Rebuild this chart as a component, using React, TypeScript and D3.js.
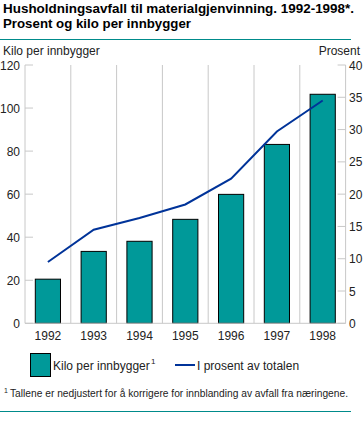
import React from 'react';
import * as d3 from 'd3';

const years = ['1992', '1993', '1994', '1995', '1996', '1997', '1998'];
const kiloPerInnbygger = [20.5, 33.4, 38.1, 48.3, 59.9, 83.1, 106.4];
const prosentAvTotalen = [9.5, 14.5, 16.3, 18.4, 22.4, 29.7, 34.5];
const leftTicks = [0, 20, 40, 60, 80, 100, 120];
const rightTicks = [0, 5, 10, 15, 20, 25, 30, 35, 40];

const W = 363;
const H = 424;
const FONT = '"Liberation Sans", Arial, sans-serif';

function App() {
  const x0 = 25, x1 = 345.6, yTop = 65, yBottom = 323.3;

  const x = d3.scaleBand<string>().domain(years).range([x0, x1]).paddingInner(0).paddingOuter(0);
  const yLeft = d3.scaleLinear().domain([0, 120]).range([yBottom, yTop]);
  const yRight = d3.scaleLinear().domain([0, 40]).range([yBottom, yTop]);

  const barW = x.bandwidth() * 0.55;

  const line = d3.line<number>()
    .x((_, i) => (x(years[i]) as number) + x.bandwidth() / 2)
    .y(d => yRight(d));

  return (
    <svg width={W} height={H} style={{ position: 'absolute', left: 0, top: 0, background: '#fff' }} fontFamily={FONT}>
      {/* Title */}
      <text x={3} y={13} fontSize={13.5} fontWeight="bold" fill="#000" textLength={351} lengthAdjust="spacingAndGlyphs">
        Husholdningsavfall til materialgjenvinning. 1992-1998*.
      </text>
      <text x={3} y={28} fontSize={13.5} fontWeight="bold" fill="#000" textLength={188} lengthAdjust="spacingAndGlyphs">
        Prosent og kilo per innbygger
      </text>
      <line x1={0} x2={351} y1={39.5} y2={39.5} stroke="#008b8b" strokeWidth={1} />

      {/* Axis titles */}
      <text x={3} y={55} fontSize={12} fill="#222">Kilo per innbygger</text>
      <text x={360} y={55} fontSize={12} fill="#222" textAnchor="end">Prosent</text>

      {/* Vertical gridlines */}
      {years.slice(1).map(yr => (
        <line key={yr} x1={x(yr)} x2={x(yr)} y1={yTop} y2={yBottom} stroke="#c8c8c8" strokeWidth={1} />
      ))}

      {/* Left axis */}
      <line x1={x0} x2={x0} y1={yTop} y2={yBottom} stroke="#c8c8c8" />
      {leftTicks.map(t => (
        <g key={t}>
          <line x1={x0} x2={x0 + 8} y1={yLeft(t)} y2={yLeft(t)} stroke="#c8c8c8" />
          <text x={20} y={yLeft(t) + 4.5} fontSize={12} fill="#222" textAnchor="end">{t}</text>
        </g>
      ))}

      {/* Right axis */}
      <line x1={x1} x2={x1} y1={yTop} y2={yBottom} stroke="#c8c8c8" />
      {rightTicks.map(t => (
        <g key={t}>
          <line x1={x1 - 8} x2={x1} y1={yRight(t)} y2={yRight(t)} stroke="#c8c8c8" />
          <text x={349} y={yRight(t) + 4.5} fontSize={12} fill="#222">{t}</text>
        </g>
      ))}

      {/* Bars */}
      {kiloPerInnbygger.map((v, i) => {
        const cx = (x(years[i]) as number) + x.bandwidth() / 2;
        return (
          <rect key={years[i]} x={cx - barW / 2} y={yLeft(v)} width={barW} height={yLeft(0) - yLeft(v)}
            fill="#009999" stroke="#000" strokeWidth={1} />
        );
      })}

      {/* Line */}
      <path d={line(prosentAvTotalen) || ''} fill="none" stroke="#003399" strokeWidth={2} />

      {/* Baseline */}
      <line x1={x0} x2={x1} y1={yBottom} y2={yBottom} stroke="#c8c8c8" />

      {/* X labels */}
      {years.map(yr => (
        <text key={yr} x={(x(yr) as number) + x.bandwidth() / 2} y={340} fontSize={12} fill="#222" textAnchor="middle">{yr}</text>
      ))}

      {/* Legend */}
      <rect x={30.5} y={353.5} width={20} height={23} fill="#009999" stroke="#000" />
      <text x={53} y={370} fontSize={12} fill="#222">Kilo per innbygger</text>
      <text x={151} y={364} fontSize={8} fill="#222">1</text>
      <line x1={175} x2={195} y1={365} y2={365} stroke="#003399" strokeWidth={2} />
      <text x={197} y={370} fontSize={12} fill="#222">I prosent av totalen</text>

      {/* Footnote */}
      <text x={4} y={393} fontSize={7} fill="#222">1</text>
      <text x={10} y={397} fontSize={10} fill="#222" textLength={338} lengthAdjust="spacingAndGlyphs">
        Tallene er nedjustert for å korrigere for innblanding av avfall fra næringene.
      </text>
      <line x1={0} x2={351} y1={411.5} y2={411.5} stroke="#008b8b" strokeWidth={1} />
    </svg>
  );
}

export default App;
